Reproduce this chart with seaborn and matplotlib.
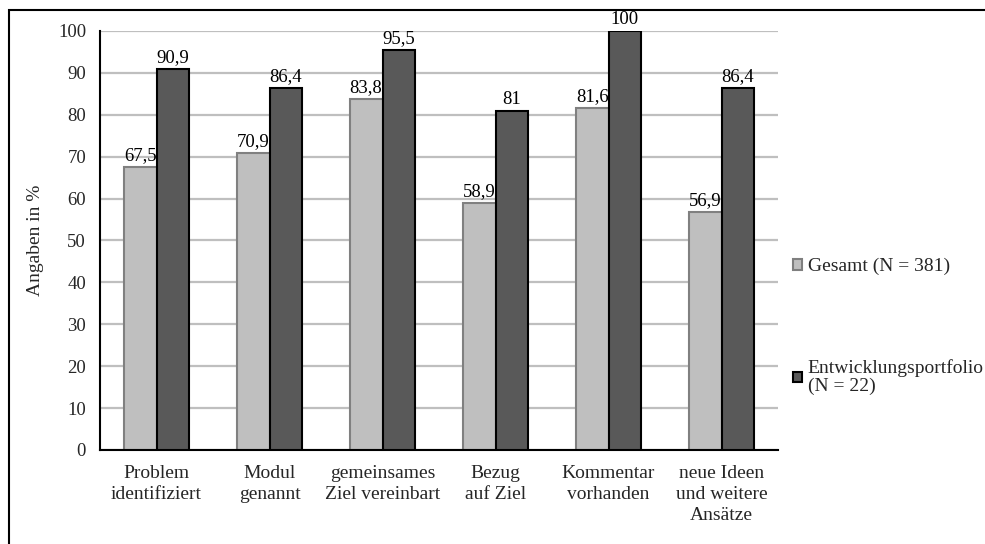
import matplotlib
matplotlib.use("Agg")
import matplotlib.pyplot as plt
import numpy as np
import pandas as pd
import seaborn as sns
from matplotlib.patches import Rectangle

categories = [
    "Problem\nidentifiziert",
    "Modul\ngenannt",
    "gemeinsames\nZiel vereinbart",
    "Bezug\nauf Ziel",
    "Kommentar\nvorhanden",
    "neue Ideen\nund weitere\nAnsätze",
]
gesamt = [67.5, 70.9, 83.8, 58.9, 81.6, 56.9]
portfolio = [90.9, 86.4, 95.5, 81, 100, 86.4]
series = ["Gesamt (N = 381)", "Entwicklungsportfolio\n(N = 22)"]
y_ticks = list(range(0, 101, 10))

sns.set_theme(style="white")
plt.rcParams["font.family"] = ["Liberation Serif", "DejaVu Serif"]
plt.rcParams["font.size"] = 14

df = pd.DataFrame(
    {
        "Kategorie": categories * 2,
        "Wert": gesamt + portfolio,
        "Gruppe": [series[0]] * len(gesamt) + [series[1]] * len(portfolio),
    }
)

fig = plt.figure(figsize=(9.85, 5.44), dpi=100)
ax = fig.add_axes([100 / 985, 1 - 450 / 544, 678 / 985, 419 / 544])

sns.barplot(
    data=df,
    x="Kategorie",
    y="Wert",
    hue="Gruppe",
    palette=["#BFBFBF", "#595959"],
    width=0.58,
    errorbar=None,
    ax=ax,
    zorder=2,
)

edge_colors = ["#808080", "#000000"]
for i, container in enumerate(ax.containers):
    for bar in container:
        bar.set_edgecolor(edge_colors[i])
        bar.set_linewidth(1.5)
        bar.set_zorder(2 + i)
    labels = [f"{v:g}".replace(".", ",") for v in container.datavalues]
    texts = ax.bar_label(container, labels=labels, padding=2, fontsize=13.5, color="black")
    for t in texts:
        t.set_zorder(2.5)

ax.set_ylim(0, 100)
ax.set_yticks(y_ticks)
ax.set_xlim(-0.5, len(categories) - 0.5)
ax.set_xlabel("")
ax.set_ylabel("Angaben in %", fontsize=14, labelpad=10)
ax.yaxis.grid(True, color="#BFBFBF", linewidth=1.6, zorder=0)
ax.set_axisbelow(True)
ax.tick_params(axis="y", length=0, pad=10, labelsize=13.5)
ax.tick_params(axis="x", length=0, pad=11, labelsize=14)
for t in ax.get_xticklabels():
    t.set_linespacing(1.3)
for side in ("top", "right"):
    ax.spines[side].set_visible(False)
for side in ("left", "bottom"):
    ax.spines[side].set_color("black")
    ax.spines[side].set_linewidth(1.5)

handles, labs = ax.get_legend_handles_labels()
for h, ec in zip(handles, ["#7F7F7F", "#000000"]):
    h.set_edgecolor(ec)
    h.set_linewidth(1.5)
leg = ax.legend(
    handles,
    labs,
    loc="upper left",
    bbox_to_anchor=(793 / 985, 1 - 258 / 544),
    bbox_transform=fig.transFigure,
    frameon=False,
    fontsize=14,
    handlelength=0.45,
    handleheight=0.45,
    handletextpad=0.3,
    labelspacing=4.3,
    borderaxespad=0,
    borderpad=0,
)
for t in leg.get_texts():
    t.set_linespacing(1.1)

fig.patches.append(
    Rectangle(
        (9 / 985, -0.05),
        1.2,
        1 - 10 / 544 + 0.05,
        transform=fig.transFigure,
        fill=False,
        edgecolor="black",
        linewidth=1.5,
        zorder=10,
    )
)

fig.savefig("out.png", dpi=100)
